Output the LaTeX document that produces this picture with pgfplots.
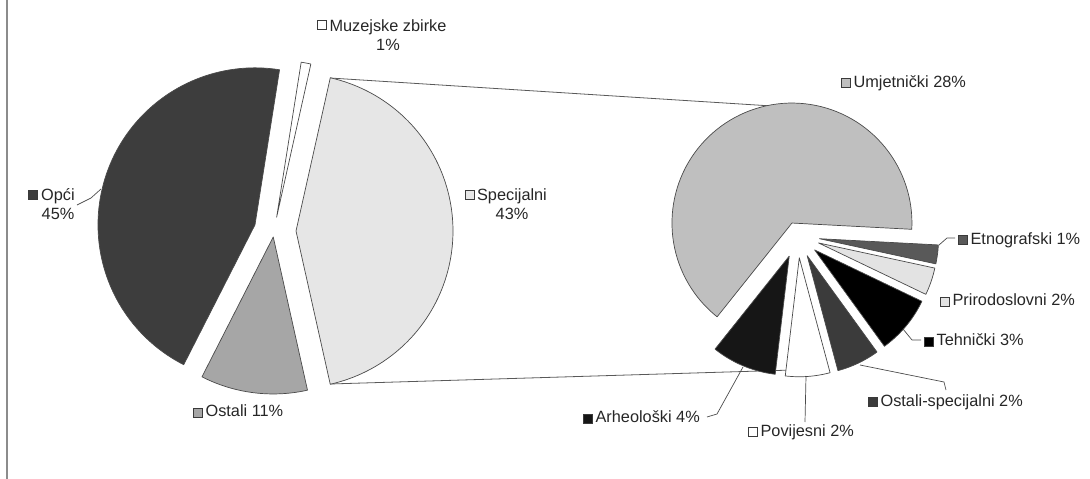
\documentclass[border=0pt]{standalone}
\usepackage{pgfplots}
\pgfplotsset{compat=1.18}
\usepackage{fontspec}
\setmainfont{Liberation Sans}
\definecolor{edgec}{HTML}{4A4A4A}
\definecolor{keyedge}{HTML}{3A3A3A}
\definecolor{txt}{HTML}{262626}
\definecolor{cOpci}{HTML}{3D3D3D}
\definecolor{cOst}{HTML}{A6A6A6}
\definecolor{cSpec}{HTML}{E6E6E6}
\definecolor{cMuz}{HTML}{FFFFFF}
\definecolor{cUmj}{HTML}{BFBFBF}
\definecolor{cEtno}{HTML}{595959}
\definecolor{cPriro}{HTML}{E3E3E3}
\definecolor{cTeh}{HTML}{000000}
\definecolor{cOstS}{HTML}{3B3B3B}
\definecolor{cPov}{HTML}{FFFFFF}
\definecolor{cArh}{HTML}{161616}
\newcommand\key[1]{{\setlength{\fboxsep}{0pt}\setlength{\fboxrule}{0.6pt}\fcolorbox{keyedge}{#1}{\rule{0pt}{8.2pt}\hspace{8.2pt}}}}
\newcommand\lab{\fontsize{16.3}{19.5}\selectfont\color{txt}}
% slice: #1 cx, #2 cy, #3 R, #4 angle from, #5 angle to, #6 explosion, #7 colour
\newcommand\slice[7]{%
  \pgfmathsetmacro\smid{(#4+#5)/2}%
  \pgfmathsetmacro\sax{#1+#6*cos(\smid)}%
  \pgfmathsetmacro\say{#2-#6*sin(\smid)}%
  \edef\stemp{\noexpand\addplot[fill=#7, draw=edgec, line width=0.7pt, line join=round, domain=#4:#5, samples=90] ({\sax+#3*cos(x)},{\say-#3*sin(x)}) -- (axis cs:\sax,\say) -- cycle;}%
  \stemp}
% ---- data (percent) ----
\def\vOpci{45}\def\vOstali{11}\def\vSpec{43}\def\vMuz{1}
\def\vUmj{28.0}\def\vEtno{1.1}\def\vPriro{1.6}\def\vTeh{3.4}\def\vOstS{2.5}\def\vPov{2.6}\def\vArh{3.8}
\begin{document}
\begin{tikzpicture}
% angles of first pie (total 100)
\pgfmathsetmacro\aS{1.8*\vSpec}
\pgfmathsetmacro\aO{-\aS-3.6*\vOstali}
\pgfmathsetmacro\aP{\aO-3.6*\vOpci}
\pgfmathsetmacro\aM{\aP-3.6*\vMuz}
% angles of second pie (total = Specijalni)
\pgfmathsetmacro\kk{360/\vSpec}
\def\bS{-3}
\pgfmathsetmacro\bU{\bS+\kk*\vUmj}
\pgfmathsetmacro\bE{\bS-\kk*\vEtno}
\pgfmathsetmacro\bP{\bE-\kk*\vPriro}
\pgfmathsetmacro\bT{\bP-\kk*\vTeh}
\pgfmathsetmacro\bO{\bT-\kk*\vOstS}
\pgfmathsetmacro\bV{\bO-\kk*\vPov}
\pgfmathsetmacro\bA{\bV-\kk*\vArh}
\begin{axis}[scale only axis, width=1090pt, height=479pt,
  xmin=0, xmax=1090, ymin=0, ymax=479, y dir=reverse,
  axis lines=none, ticks=none, clip=false]
% frame line at left
\addplot[color=black!45, line width=2pt] coordinates {(7,0) (7,479)};
% connector lines
\addplot[color=black!65, line width=0.8pt] coordinates {(330,78) (772,106)};
\addplot[color=black!65, line width=0.8pt] coordinates {(330,384) (826,369)};
% first pie
\slice{274}{231}{157}{-\aS}{\aS}{22}{cSpec}
\slice{274}{231}{157}{\aO}{-\aS}{6}{cOst}
\slice{274}{231}{157}{\aP}{\aO}{20}{cOpci}
\slice{274}{231}{157}{\aM}{\aP}{14}{cMuz}
% second pie
\slice{797.7}{235.8}{120}{\bS}{\bU}{14}{cUmj}
\slice{797.7}{235.8}{119}{\bE}{\bS}{22}{cEtno}
\slice{797.7}{235.8}{119}{\bP}{\bE}{22}{cPriro}
\slice{797.7}{235.8}{119}{\bT}{\bP}{22}{cTeh}
\slice{797.7}{235.8}{119}{\bO}{\bT}{22}{cOstS}
\slice{797.7}{235.8}{119}{\bV}{\bO}{22}{cPov}
\slice{797.7}{235.8}{119}{\bA}{\bV}{22}{cArh}
% leader lines
\addplot[color=black!70, line width=0.7pt] coordinates {(77,205) (91,198) (101,189)};
\addplot[color=black!70, line width=0.7pt] coordinates {(939,245) (947,238) (955,238)};
\addplot[color=black!70, line width=0.7pt] coordinates {(903,329) (912,340) (921,340)};
\addplot[color=black!70, line width=0.7pt] coordinates {(860,365) (944,382) (946,390)};
\addplot[color=black!70, line width=0.7pt] coordinates {(743,367) (717,414) (707,417)};
\addplot[color=black!70, line width=0.7pt] coordinates {(806,376) (805,422)};
% labels
\node[anchor=center, align=center, inner sep=0, font=\lab] at (axis cs:388,35) {Muzejske zbirke\\1\%};
\node[anchor=east, inner sep=0] at (axis cs:327,25) {\key{cMuz}};
\node[anchor=center, align=center, inner sep=0, font=\lab] at (axis cs:58,204) {Opći\\45\%};
\node[anchor=east, inner sep=0] at (axis cs:38,195) {\key{cOpci}};
\node[anchor=center, align=center, inner sep=0, font=\lab] at (axis cs:512,204) {Specijalni\\43\%};
\node[anchor=east, inner sep=0] at (axis cs:475,195) {\key{cSpec}};
\node[anchor=west, inner sep=0, font=\lab] at (axis cs:193,411) {\key{cOst}\hspace{3pt}Ostali 11\%};
\node[anchor=west, inner sep=0, font=\lab] at (axis cs:841,83) {\key{cUmj}\hspace{3pt}Umjetnički 28\%};
\node[anchor=west, inner sep=0, font=\lab] at (axis cs:958,240) {\key{cEtno}\hspace{3pt}Etnografski 1\%};
\node[anchor=west, inner sep=0, font=\lab] at (axis cs:940,300) {\key{cPriro}\hspace{3pt}Prirodoslovni 2\%};
\node[anchor=west, inner sep=0, font=\lab] at (axis cs:924,340) {\key{cTeh}\hspace{3pt}Tehnički 3\%};
\node[anchor=west, inner sep=0, font=\lab] at (axis cs:868,402) {\key{cOstS}\hspace{3pt}Ostali-specijalni 2\%};
\node[anchor=west, inner sep=0, font=\lab] at (axis cs:583,417) {\key{cArh}\hspace{3pt}Arheološki 4\%};
\node[anchor=west, inner sep=0, font=\lab] at (axis cs:748,432) {\key{cPov}\hspace{3pt}Povijesni 2\%};
\end{axis}
\pgfresetboundingbox
\path (current axis.south west) rectangle (current axis.north east);
\end{tikzpicture}
\end{document}
